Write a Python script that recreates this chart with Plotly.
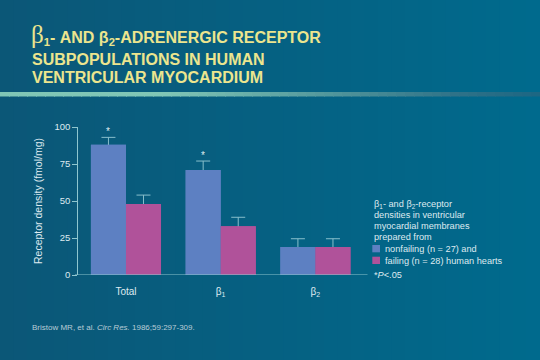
import plotly.graph_objects as go

categories = ["Total", "β<sub>1</sub>", "β<sub>2</sub>"]
nonfailing = [88, 71, 19]
nonfailing_err = [5, 6, 5.5]
failing = [48, 33, 19]
failing_err = [6, 6, 5.5]
significant = [True, True, False]
yticks = [0, 25, 50, 75, 100]

W, H = 540, 360
BLUE = "#5d80c2"
PINK = "#b0529a"
AXIS = "#8fc6cf"
ERR = "#88bfcc"
TXT = "#dfeaf0"
YEL = "#ece58e"


def px(x):
    return x / W


def py(y):
    return 1 - y / H


def lerp(c1, c2, t):
    a = [int(c1[i:i + 2], 16) for i in (1, 3, 5)]
    b = [int(c2[i:i + 2], 16) for i in (1, 3, 5)]
    return "#" + "".join(f"{int(round(a[k] + (b[k] - a[k]) * t)):02x}" for k in range(3))


fig = go.Figure()
# bars with symmetric SEM error bars ...
fig.add_trace(go.Bar(
    x=categories, y=nonfailing, name="nonfailing (n = 27)", offsetgroup="nf",
    marker=dict(color=BLUE, line=dict(width=0)),
    error_y=dict(type="data", array=nonfailing_err, color=ERR, thickness=1, width=7),
))
fig.add_trace(go.Bar(
    x=categories, y=failing, name="failing (n = 28)", offsetgroup="f",
    marker=dict(color=PINK, line=dict(width=0)),
    error_y=dict(type="data", array=failing_err, color=ERR, thickness=1, width=7),
))
# ... the same bars drawn again on top so only the upper half of each error bar shows
fig.add_trace(go.Bar(
    x=categories, y=nonfailing, offsetgroup="nf",
    marker=dict(color=BLUE, line=dict(width=0)),
))
fig.add_trace(go.Bar(
    x=categories, y=failing, offsetgroup="f",
    marker=dict(color=PINK, line=dict(width=0)),
))

shapes = []
# background gradient
N = 40
for i in range(N):
    shapes.append(dict(type="rect", xref="paper", yref="paper", layer="below",
                       x0=i / N, x1=(i + 1) / N + 0.002, y0=0, y1=1,
                       fillcolor=lerp("#0b5777", "#006a8d", i / (N - 1)),
                       line=dict(width=0)))
# decorative stripe under title
M = 60
for i in range(M):
    t = i / (M - 1)
    if t < 0.3:
        c = "#80c6b6"
    elif t < 0.85:
        c = lerp("#80c6b6", "#2f7288", (t - 0.3) / 0.55)
    else:
        c = lerp("#2f7288", "#1d6783", (t - 0.85) / 0.15)
    shapes.append(dict(type="rect", xref="paper", yref="paper", layer="below",
                       x0=i / M, x1=(i + 1) / M + 0.002, y0=py(96.5), y1=py(92),
                       fillcolor=c, line=dict(width=0)))
# baseline (x axis line, extends past the bars)
shapes.append(dict(type="line", xref="paper", yref="y", x0=px(75), x1=px(367.5),
                   y0=0, y1=0, line=dict(color=AXIS, width=1)))
# legend squares
shapes.append(dict(type="rect", xref="paper", yref="paper",
                   x0=px(372.3), x1=px(380), y0=py(252.3), y1=py(245),
                   fillcolor=BLUE, line=dict(width=0)))
shapes.append(dict(type="rect", xref="paper", yref="paper",
                   x0=px(372.3), x1=px(380), y0=py(264), y1=py(256.7),
                   fillcolor=PINK, line=dict(width=0)))

ann = []
ann.append(dict(
    text="<b><span style='font-family:Times New Roman, serif;font-size:25px;font-weight:normal'>β</span>"
         "<sub>1</sub>- AND β<sub>2</sub>-ADRENERGIC RECEPTOR</b>",
    xref="paper", yref="paper", x=px(29), y=py(50),
    xanchor="left", yanchor="bottom", showarrow=False,
    font=dict(family="Arial, Liberation Sans", size=16, color=YEL)))
for t, y in [("<b>SUBPOPULATIONS IN HUMAN</b>", 59.5),
             ("<b>VENTRICULAR MYOCARDIUM</b>", 77.5)]:
    ann.append(dict(text=t, xref="paper", yref="paper", x=px(30), y=py(y),
                    xanchor="left", yanchor="middle", showarrow=False,
                    font=dict(family="Arial, Liberation Sans", size=16, color=YEL)))

legend_lines = [
    ("β<sub>1</sub>- and β<sub>2</sub>-receptor", 372, 204.5),
    ("densities in ventricular", 372, 214.5),
    ("myocardial membranes", 372, 225.5),
    ("prepared from", 372, 236.7),
    ("nonfailing (n = 27) and", 382.5, 249),
    ("failing (n = 28) human hearts", 382.5, 260.5),
    ("*<i>P</i>&lt;.05", 372, 274.5),
]
for t, x, y in legend_lines:
    ann.append(dict(text=t, xref="paper", yref="paper", x=px(x), y=py(y),
                    xanchor="left", yanchor="middle", showarrow=False,
                    font=dict(family="Arial, Liberation Sans", size=9.2, color=TXT)))

ann.append(dict(text="Bristow MR, et al. <i>Circ Res.</i> 1986;59:297-309.",
                xref="paper", yref="paper", x=px(30), y=py(327),
                xanchor="left", yanchor="middle", showarrow=False,
                font=dict(family="Arial, Liberation Sans", size=8, color="#b9ccd6")))

# significance asterisks above nonfailing bars
for c, v, e, s in zip(categories, nonfailing, nonfailing_err, significant):
    if s:
        ann.append(dict(text="*", x=c, y=v + e, xref="x", yref="y",
                        xshift=-17.5, yshift=6, showarrow=False,
                        font=dict(family="Arial", size=10, color=TXT)))

fig.update_layout(
    width=W, height=H,
    margin=dict(l=0, r=0, t=0, b=0, autoexpand=False),
    paper_bgcolor="#05607f",
    plot_bgcolor="rgba(0,0,0,0)",
    barmode="group", bargap=0.26, bargroupgap=0,
    showlegend=False,
    shapes=shapes,
    annotations=ann,
    xaxis=dict(domain=[px(78.6), px(362.8)], showline=False,
               ticks="outside", ticklen=7, tickcolor="rgba(0,0,0,0)",
               tickfont=dict(family="Arial, Liberation Sans", size=10, color=TXT),
               showgrid=False, zeroline=False, fixedrange=True, automargin=False),
    yaxis=dict(domain=[py(275), py(127)], range=[0, 100], showline=True,
               linecolor=AXIS, linewidth=1, tickvals=yticks,
               ticks="outside", ticklen=5, tickcolor=AXIS,
               tickfont=dict(family="Arial, Liberation Sans", size=9.5, color=TXT),
               showgrid=False, zeroline=False, fixedrange=True, automargin=False,
               title=dict(text="Receptor density (fmol/mg)", standoff=8,
                          font=dict(family="Arial, Liberation Sans", size=10.5, color=TXT))),
)
fig.update_xaxes(anchor="y")
fig.update_yaxes(anchor="free", position=px(77.3))

fig.write_html("out.html", config={"displayModeBar": False, "staticPlot": True},
               post_script="document.body.style.margin='0';document.body.style.background='#05607f';")
